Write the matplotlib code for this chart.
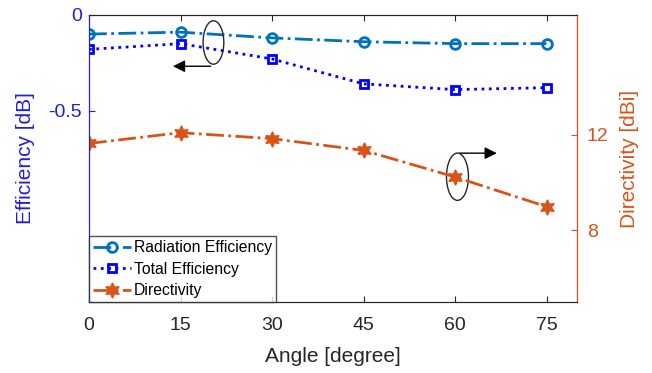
import matplotlib.pyplot as plt
from matplotlib.patches import Ellipse

plt.rcParams["font.family"] = ["Liberation Sans", "DejaVu Sans"]

# Data
angle = [0, 15, 30, 45, 60, 75]
rad_eff = [-0.10, -0.09, -0.12, -0.14, -0.15, -0.15]
tot_eff = [-0.18, -0.15, -0.23, -0.36, -0.39, -0.38]
directivity = [11.63, 12.08, 11.83, 11.34, 10.23, 8.99]

left_color = "#1f1fd6"
right_color = "#D95319"
dark = "#262626"

fig = plt.figure(figsize=(6.52, 3.73), dpi=100)
ax = fig.add_axes([0.1365, 0.190, 0.7485, 0.770])
ax2 = ax.twinx()

l1, = ax.plot(angle, rad_eff, linestyle="-.", color="#0072BD", lw=2,
              marker="o", ms=7, mfc="none", mew=2, label="Radiation Efficiency")
l2, = ax.plot(angle, tot_eff, linestyle=":", color="#0000FF", lw=2,
              marker="s", ms=6, mfc="none", mew=2, label="Total Efficiency")
l3, = ax2.plot(angle, directivity, linestyle="-.", color=right_color, lw=2,
               marker=(6, 1, 0), ms=11, mfc=right_color, label="Directivity")

ax.set_xlim(0, 80)
ax.set_ylim(-1.5, 0)
ax2.set_ylim(5, 17)
ax.set_xticks([0, 15, 30, 45, 60, 75])
ax.set_yticks([-0.5, 0])
ax.set_yticklabels(["-0.5", "0"])
ax2.set_yticks([8, 12])

ax.tick_params(axis="x", direction="in", top=True, colors=dark, labelsize=14, pad=11, length=4)
ax.tick_params(axis="y", direction="in", colors=left_color, labelsize=14, length=4, pad=5)
ax2.tick_params(axis="y", direction="in", colors=right_color, labelsize=14, length=4, pad=7)

for s in ["top", "bottom"]:
    ax.spines[s].set_color(dark)
    ax2.spines[s].set_color(dark)
ax2.spines["left"].set_color(left_color)
ax2.spines["right"].set_color(right_color)
ax.spines["left"].set_color(left_color)

ax.set_xlabel("Angle [degree]", fontsize=15, color=dark, labelpad=9)
ax.set_ylabel("Efficiency [dB]", fontsize=15, color=left_color, labelpad=10)
ax2.set_ylabel("Directivity [dBi]", fontsize=15, color=right_color, labelpad=8)

# annotation ellipses and arrows
ax.add_patch(Ellipse((20.4, -0.144), 3.4, 0.227, fill=False, ec=dark, lw=1, zorder=5))
ax.annotate("", xy=(13.3, -0.268), xytext=(20.4, -0.268),
            arrowprops=dict(arrowstyle="-|>", color="black", lw=1, mutation_scale=18))
ax.add_patch(Ellipse((60.4, -0.845), 3.6, 0.247, fill=False, ec=dark, lw=1, zorder=5))
ax.annotate("", xy=(67.3, -0.722), xytext=(60.3, -0.722),
            arrowprops=dict(arrowstyle="-|>", color="black", lw=1, mutation_scale=18))

leg = ax2.legend(handles=[l1, l2, l3], loc="lower left", fontsize=11.3,
                 borderaxespad=0, frameon=True, fancybox=False, handlelength=2.4,
                 handletextpad=0.2, borderpad=0.25, labelspacing=0.42)
leg.get_frame().set_edgecolor(dark)
leg.get_frame().set_linewidth(1)

fig.savefig("out.png", dpi=100)
